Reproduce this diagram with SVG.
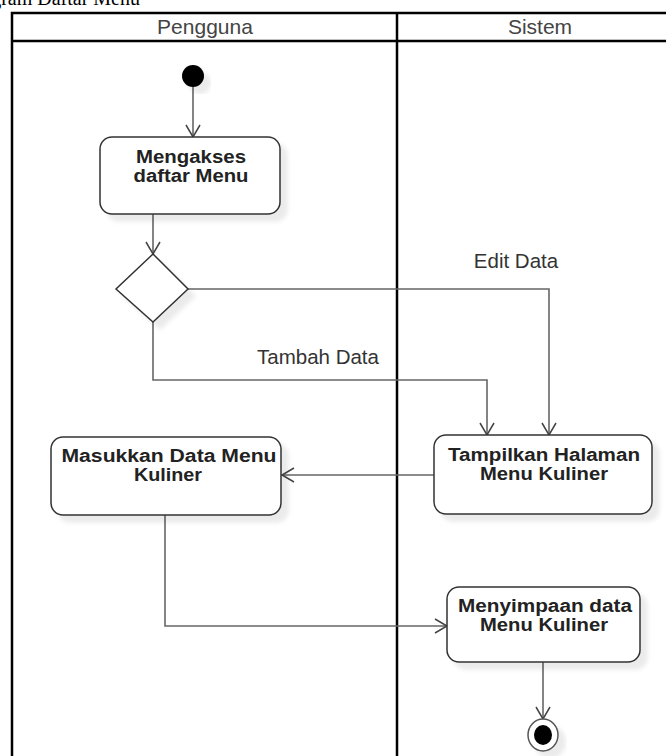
<svg xmlns="http://www.w3.org/2000/svg" width="666" height="756" viewBox="0 0 666 756">
  <style>
    .lane { fill: none; stroke: #000; stroke-width: 2.5; }
    .hdr { font-family: "Liberation Sans", Arial, sans-serif; font-size: 21px; fill: #444; text-anchor: middle; }
    .act { fill: #fff; stroke: #333; stroke-width: 1.5; filter: url(#shadow); }
    .lbl { font-family: "Liberation Sans", Arial, sans-serif; font-size: 17.5px; font-weight: bold; fill: #222; text-anchor: middle; }
    .flow { fill: none; stroke: #666; stroke-width: 1.6; marker-end: url(#open); }
    .guard { font-family: "Liberation Sans", Arial, sans-serif; font-size: 20.5px; fill: #333; text-anchor: middle; }
  </style>
  <defs>
    <filter id="shadow" x="-20%" y="-20%" width="150%" height="150%">
      <feDropShadow dx="7" dy="7" stdDeviation="2" flood-color="#000" flood-opacity="0.08"/>
    </filter>
    <marker id="open" markerWidth="16" markerHeight="16" refX="13" refY="8" orient="auto" markerUnits="userSpaceOnUse">
      <path d="M1,1 L13,8 L1,15" fill="none" stroke="#444" stroke-width="1.5"/>
    </marker>
  </defs>
  <rect width="666" height="756" fill="#fff"/>

  <!-- caption, partly above the page edge -->
  <text x="140" y="5" font-family="Liberation Serif, serif" font-size="20" fill="#000" text-anchor="end">Diagram Daftar Menu</text>

  <!-- swimlanes -->
  <g id="lanes">
    <path class="lane" d="M12,756 V13 H666 M12,41 H666 M397,13 V756"/>
    <text class="hdr" x="205" y="34">Pengguna</text>
    <text class="hdr" x="540" y="34">Sistem</text>
  </g>

  <!-- connectors -->
  <g id="connectors">
    <path class="flow" d="M193,87 V137"/>
    <path class="flow" d="M153,214 V254"/>
    <path class="flow" d="M188,289 H549 V435"/>
    <path class="flow" d="M153,322 V380 H487 V435"/>
    <path class="flow" d="M434,475 H282"/>
    <path class="flow" d="M165,515 V626 H447"/>
    <path class="flow" d="M543,662 V719"/>
    <text class="guard" x="516" y="268">Edit Data</text>
    <text class="guard" x="318" y="364">Tambah Data</text>
  </g>

  <g id="start">
    <circle cx="193" cy="76" r="11" fill="#000" filter="url(#shadow)"/>
  </g>

  <g id="mengakses">
    <rect class="act" x="100" y="137" width="180" height="77" rx="12"/>
    <text class="lbl" x="191" y="163" textLength="110" lengthAdjust="spacingAndGlyphs">Mengakses</text>
    <text class="lbl" x="191" y="182" textLength="115" lengthAdjust="spacingAndGlyphs">daftar Menu</text>
  </g>

  <g id="decision">
    <polygon points="153,254 188,289 153,322 116,289" fill="#fff" stroke="#333" stroke-width="1.5" filter="url(#shadow)"/>
  </g>

  <g id="tampilkan">
    <rect class="act" x="434" y="435" width="218" height="79" rx="12"/>
    <text class="lbl" x="544" y="461" textLength="192" lengthAdjust="spacingAndGlyphs">Tampilkan Halaman</text>
    <text class="lbl" x="544" y="480" textLength="128" lengthAdjust="spacingAndGlyphs">Menu Kuliner</text>
  </g>

  <g id="masukkan">
    <rect class="act" x="51" y="437" width="230" height="78" rx="12"/>
    <text class="lbl" x="169" y="462" textLength="215" lengthAdjust="spacingAndGlyphs">Masukkan Data Menu</text>
    <text class="lbl" x="168" y="481" textLength="68" lengthAdjust="spacingAndGlyphs">Kuliner</text>
  </g>

  <g id="menyimpan">
    <rect class="act" x="447" y="587" width="193" height="75" rx="12"/>
    <text class="lbl" x="545" y="612" textLength="174" lengthAdjust="spacingAndGlyphs">Menyimpaan data</text>
    <text class="lbl" x="544" y="631" textLength="128" lengthAdjust="spacingAndGlyphs">Menu Kuliner</text>
  </g>

  <g id="end">
    <ellipse cx="543" cy="735" rx="15" ry="16" fill="#fff" stroke="#555" stroke-width="1.5" filter="url(#shadow)"/>
    <ellipse cx="543" cy="735" rx="9" ry="10" fill="#000"/>
  </g>
</svg>
